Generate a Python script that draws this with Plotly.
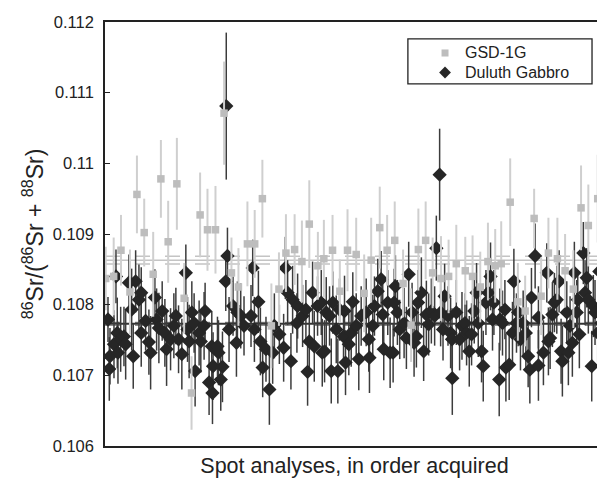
import plotly.graph_objects as go

# ---------------- data ----------------
duluth_x = [
    3, 4.3, 5, 9, 11, 12.3, 13, 15.7, 19, 20.7,
    24, 26.7, 28.3, 30.7, 34, 36.3, 36.3, 40.7, 44, 45.7,
    50, 51.7, 54, 57.3, 60, 61.7, 65.7, 69, 71, 73.7,
    77, 81, 82.7, 84.3, 87, 89.3, 90.3, 94.3, 96, 99.3,
    100.3, 104.3, 107, 107.7, 108.3, 112.7, 113.7, 116, 117.7, 121,
    121.5, 122.7, 124.3, 128.3, 131.7, 132.7, 136, 139.3, 146.3, 148,
    149.7, 153.7, 155.7, 158, 161.3, 164.7, 168, 169.7, 174.7, 179,
    180.7, 183, 186.3, 188, 192.3, 193, 198, 201.3, 203, 204.7,
    208, 209.7, 213, 216.7, 217.7, 220, 221.7, 225, 226.7, 228.3,
    231.7, 233.3, 235, 239, 240, 241, 244.3, 246.7, 248.3, 251.7,
    254.3, 256.7, 261.7, 264.3, 265, 268.3, 270, 273.3, 276.7, 278.3,
    279.3, 283.3, 285.7, 288.7, 289.7, 291, 293, 295.3, 299.7, 302,
    304.3, 307.7, 309.7, 312, 313.7, 317, 319.3, 322, 324.3, 327,
    330.3, 332, 335.3, 336.3, 338.7, 340.3, 343.7, 346.3, 347.7, 348,
    352, 355.3, 357.7, 360.7, 362.3, 365, 367.3, 370, 372.3, 374,
    377.3, 379, 381.7, 384, 386.3, 388.3, 389.7, 395, 395.7, 398.3,
    400.7, 401.7, 405, 408.3, 409.7, 412.3, 414, 416.3, 419, 421.7,
    424, 425.7, 427.3, 431, 434.3, 434.3, 439.3, 442.7, 444.3, 446,
    448.3, 450.3, 452.7, 455, 457, 458.3, 462.7, 464.3, 466, 468.3,
    470.3, 472.7, 473.7, 475.3, 479.3, 481, 482.7, 484.3, 487.7, 489.3,
    491, 493.7, 495.3, 497.7, 499.3,
]
duluth_y = [
    0.10779, 0.10709, 0.10727, 0.10744, 0.10840, 0.10760, 0.10732, 0.10751, 0.10755, 0.10744,
    0.10831, 0.10793, 0.10727, 0.10833, 0.10807, 0.10817, 0.10760, 0.10777, 0.10747, 0.10732,
    0.10810, 0.10779, 0.10767, 0.10791, 0.10760, 0.10737, 0.10751, 0.10770, 0.10784, 0.10751,
    0.10730, 0.10845, 0.10765, 0.10748, 0.10789, 0.10774, 0.10706, 0.10760, 0.10748, 0.10770,
    0.10791, 0.10690, 0.10741, 0.10675, 0.10713, 0.10741, 0.10732, 0.10694, 0.10712, 0.10833,
    0.11081, 0.10869, 0.10765, 0.10798, 0.10746, 0.10789, 0.10784, 0.10770, 0.10784, 0.10852,
    0.10765, 0.10804, 0.10748, 0.10711, 0.10737, 0.10680, 0.10732, 0.10770, 0.10758, 0.10739,
    0.10852, 0.10817, 0.10720, 0.10807, 0.10774, 0.10798, 0.10784, 0.10793, 0.10705, 0.10748,
    0.10817, 0.10741, 0.10798, 0.10803, 0.10732, 0.10734, 0.10789, 0.10784, 0.10706, 0.10803,
    0.10765, 0.10706, 0.10793, 0.10755, 0.10791, 0.10718, 0.10744, 0.10760, 0.10804, 0.10770,
    0.10723, 0.10784, 0.10789, 0.10751, 0.10725, 0.10770, 0.10798, 0.10819, 0.10836, 0.10786,
    0.10737, 0.10803, 0.10732, 0.10732, 0.10803, 0.10826, 0.10789, 0.10765, 0.10774, 0.10753,
    0.10843, 0.10789, 0.10746, 0.10755, 0.10803, 0.10817, 0.10734, 0.10786, 0.10772, 0.10791,
    0.10784, 0.10880, 0.10984, 0.10789, 0.10765, 0.10812, 0.10784, 0.10760, 0.10751, 0.10696,
    0.10789, 0.10751, 0.10770, 0.10774, 0.10760, 0.10734, 0.10758, 0.10791, 0.10817, 0.10774,
    0.10734, 0.10713, 0.10803, 0.10817, 0.10840, 0.10779, 0.10803, 0.10694, 0.10779, 0.10774,
    0.10793, 0.10711, 0.10715, 0.10760, 0.10833, 0.10774, 0.10789, 0.10751, 0.10774, 0.10760,
    0.10727, 0.10708, 0.10810, 0.10869, 0.10782, 0.10714, 0.10732, 0.10845, 0.10748, 0.10753,
    0.10786, 0.10803, 0.10807, 0.10833, 0.10734, 0.10720, 0.10789, 0.10732, 0.10770, 0.10746,
    0.10845, 0.10789, 0.10807, 0.10758, 0.10873, 0.10817, 0.10838, 0.10807, 0.10713, 0.10798,
    0.10789, 0.10760, 0.10847, 0.10774, 0.10795,
]
duluth_err = [
    0.00032, 0.00045, 0.00040, 0.00048, 0.00038, 0.00050, 0.00044, 0.00046, 0.00042, 0.00050,
    0.00040, 0.00058, 0.00046, 0.00044, 0.00050, 0.00036, 0.00048, 0.00042, 0.00046, 0.00052,
    0.00040, 0.00044, 0.00050, 0.00042, 0.00048, 0.00052, 0.00044, 0.00046, 0.00040, 0.00048,
    0.00050, 0.00040, 0.00046, 0.00052, 0.00044, 0.00042, 0.00050, 0.00046, 0.00044, 0.00048,
    0.00040, 0.00046, 0.00050, 0.00044, 0.00048, 0.00042, 0.00046, 0.00044, 0.00050, 0.00042,
    0.00104, 0.00040, 0.00046, 0.00042, 0.00048, 0.00044, 0.00046, 0.00042, 0.00044, 0.00040,
    0.00046, 0.00044, 0.00048, 0.00042, 0.00046, 0.00050, 0.00044, 0.00046, 0.00042, 0.00048,
    0.00044, 0.00046, 0.00040, 0.00048, 0.00042, 0.00046, 0.00044, 0.00042, 0.00048, 0.00046,
    0.00044, 0.00050, 0.00042, 0.00046, 0.00048, 0.00044, 0.00050, 0.00042, 0.00046, 0.00044,
    0.00048, 0.00046, 0.00044, 0.00042, 0.00050, 0.00046, 0.00044, 0.00048, 0.00042, 0.00046,
    0.00044, 0.00042, 0.00048, 0.00046, 0.00050, 0.00044, 0.00042, 0.00046, 0.00040, 0.00048,
    0.00044, 0.00046, 0.00050, 0.00042, 0.00048, 0.00044, 0.00046, 0.00042, 0.00050, 0.00044,
    0.00046, 0.00042, 0.00048, 0.00044, 0.00046, 0.00050, 0.00042, 0.00048, 0.00044, 0.00046,
    0.00042, 0.00046, 0.00065, 0.00048, 0.00044, 0.00046, 0.00042, 0.00050, 0.00044, 0.00052,
    0.00046, 0.00044, 0.00048, 0.00042, 0.00046, 0.00050, 0.00044, 0.00046, 0.00042, 0.00048,
    0.00044, 0.00050, 0.00046, 0.00042, 0.00048, 0.00044, 0.00046, 0.00052, 0.00044, 0.00046,
    0.00042, 0.00048, 0.00050, 0.00044, 0.00046, 0.00042, 0.00048, 0.00044, 0.00046, 0.00050,
    0.00044, 0.00048, 0.00042, 0.00046, 0.00044, 0.00050, 0.00046, 0.00042, 0.00048, 0.00044,
    0.00046, 0.00042, 0.00048, 0.00044, 0.00046, 0.00050, 0.00044, 0.00046, 0.00042, 0.00048,
    0.00044, 0.00046, 0.00042, 0.00048, 0.00044, 0.00046, 0.00042, 0.00048, 0.00050, 0.00044,
    0.00046, 0.00042, 0.00048, 0.00044, 0.00046,
]

gsd_x = [
    0.7, 8.7, 16, 25, 32, 39.3, 48.3, 56, 63.3, 72,
    79.3, 86.7, 95.3, 102.7, 110.7, 119.3, 126.7, 133.7, 142.7, 150,
    157.7, 166.7, 174.3, 181.3, 190, 197.3, 204.7, 213.3, 219.3, 228,
    235.3, 243, 251.7, 259.7, 266.7, 275.3, 282.7, 290.3, 298.7, 306.7,
    314, 321.3, 328.3, 336.7, 344.3, 352, 361, 368.3, 376, 383.7,
    391, 397, 406, 413.7, 421, 430, 437, 444.3, 453.3, 461,
    469.3, 477, 484.3, 493.7, 498.7,
]
gsd_y = [
    0.10837, 0.10840, 0.10877, 0.10818, 0.10956, 0.10902, 0.10843, 0.10978, 0.10889, 0.10971,
    0.10809, 0.10675, 0.10927, 0.10906, 0.10906, 0.11071, 0.10845, 0.10825, 0.10886, 0.10886,
    0.10950, 0.10770, 0.10822, 0.10873, 0.10878, 0.10861, 0.10914, 0.10855, 0.10865, 0.10877,
    0.10819, 0.10877, 0.10871, 0.10816, 0.10863, 0.10909, 0.10877, 0.10891, 0.10830, 0.10771,
    0.10878, 0.10891, 0.10845, 0.10837, 0.10840, 0.10858, 0.10848, 0.10840, 0.10825, 0.10861,
    0.10855, 0.10858, 0.10945, 0.10804, 0.10791, 0.10922, 0.10812, 0.10873, 0.10865, 0.10848,
    0.10822, 0.10937, 0.10912, 0.10950, 0.10884,
]
gsd_err = [
    0.00045, 0.00055, 0.00050, 0.00060, 0.00055, 0.00048, 0.00060, 0.00055, 0.00058, 0.00065,
    0.00050, 0.00052, 0.00060, 0.00058, 0.00062, 0.00073, 0.00050, 0.00055, 0.00060, 0.00048,
    0.00055, 0.00060, 0.00052, 0.00055, 0.00050, 0.00058, 0.00062, 0.00048, 0.00055, 0.00050,
    0.00045, 0.00058, 0.00052, 0.00055, 0.00060, 0.00058, 0.00050, 0.00055, 0.00048, 0.00052,
    0.00058, 0.00055, 0.00050, 0.00060, 0.00052, 0.00055, 0.00048, 0.00058, 0.00050, 0.00055,
    0.00052, 0.00060, 0.00062, 0.00055, 0.00050, 0.00042, 0.00055, 0.00050, 0.00058, 0.00052,
    0.00055, 0.00060, 0.00058, 0.00062, 0.00055,
]

gsd_mean = 0.10863
gsd_band = [0.108685, 0.108575]
duluth_mean = 0.10773
duluth_band = [0.10775, 0.10771]

y_ticks = [0.106, 0.107, 0.108, 0.109, 0.110, 0.111, 0.112]
y_tick_text = ["0.106", "0.107", "0.108", "0.109", "0.11", "0.111", "0.112"]

legend_names = ["GSD-1G", "Duluth Gabbro"]

# ---------------- figure ----------------
FONT = "Liberation Sans, Arial, Helvetica, sans-serif"
DARK = "#262626"
LIGHT = "#bdbdbd"

fig = go.Figure()

fig.add_trace(go.Scatter(
    x=duluth_x, y=duluth_y, mode="markers", name=legend_names[1],
    marker=dict(symbol="diamond", size=11, color=DARK, line=dict(width=0)),
    error_y=dict(type="data", array=duluth_err, visible=True, color="#3c3c3c",
                 thickness=1.5, width=0),
))
fig.add_trace(go.Scatter(
    x=gsd_x, y=gsd_y, mode="markers", name=legend_names[0],
    marker=dict(symbol="square", size=7.5, color=LIGHT, line=dict(width=0)),
    error_y=dict(type="data", array=gsd_err, visible=True, color="#cfcfcf",
                 thickness=2, width=0),
))

shapes = []
shapes.append(dict(type="line", xref="paper", x0=0, x1=1, yref="y",
                   y0=gsd_mean, y1=gsd_mean, layer="below",
                   line=dict(color="#c4c4c4", width=1.5)))
for v in gsd_band:
    shapes.append(dict(type="line", xref="paper", x0=0, x1=1, yref="y",
                       y0=v, y1=v, layer="below",
                       line=dict(color="#c4c4c4", width=1.5, dash="longdash")))
shapes.append(dict(type="line", xref="paper", x0=0, x1=1, yref="y",
                   y0=duluth_mean, y1=duluth_mean, layer="below",
                   line=dict(color="#333333", width=2)))
for v in duluth_band:
    shapes.append(dict(type="line", xref="paper", x0=0, x1=1, yref="y",
                       y0=v, y1=v, layer="below",
                       line=dict(color="#555555", width=1, dash="longdash")))

# legend (frame, symbols) in paper coordinates
shapes.append(dict(type="rect", xref="paper", yref="paper",
                   x0=0.607, x1=0.976, y0=0.854, y1=0.960, layer="above",
                   fillcolor="white", line=dict(color="#222222", width=1.3)))
shapes.append(dict(type="rect", xref="paper", yref="paper",
                   x0=0.6814 - 0.0070, x1=0.6814 + 0.0070,
                   y0=0.9269 - 0.0083, y1=0.9269 + 0.0083, layer="above",
                   fillcolor=LIGHT, line=dict(width=0)))
dcx, dcy, dw, dh = 0.6814, 0.8809, 0.0118, 0.0140
shapes.append(dict(type="path", xref="paper", yref="paper", layer="above",
                   path=f"M {dcx-dw},{dcy} L {dcx},{dcy+dh} L {dcx+dw},{dcy} L {dcx},{dcy-dh} Z",
                   fillcolor=DARK, line=dict(width=0)))

annotations = [
    dict(text=legend_names[0], xref="paper", yref="paper", x=0.7174, y=0.9269,
         xanchor="left", yanchor="middle", showarrow=False, font=dict(size=16)),
    dict(text=legend_names[1], xref="paper", yref="paper", x=0.7174, y=0.8809,
         xanchor="left", yanchor="middle", showarrow=False, font=dict(size=16)),
]

# page body has an 8px margin, so the figure is drawn 8px smaller
fig.update_layout(
    width=597, height=470,
    margin=dict(l=97, r=1, t=14, b=32),
    paper_bgcolor="white", plot_bgcolor="white",
    font=dict(family=FONT, size=16, color="#222222"),
    showlegend=False,
    shapes=shapes,
    annotations=annotations,
    xaxis=dict(range=[0, 500], showgrid=False, zeroline=False, automargin=False,
               showline=True, linecolor="#222222", linewidth=1.5, mirror=True,
               ticks="", showticklabels=False,
               title=dict(text="Spot analyses, in order acquired",
                          font=dict(size=21.5), standoff=12)),
    yaxis=dict(range=[0.106, 0.112], showgrid=False, zeroline=False, automargin=False,
               showline=True, linecolor="#222222", linewidth=1.5, mirror="ticks",
               ticks="inside", ticklen=5, tickwidth=1.2, tickcolor="#222222",
               tickvals=y_ticks, ticktext=y_tick_text, ticklabelstandoff=6,
               tickfont=dict(size=16.5),
               title=dict(text="<sup>86</sup>Sr/(<sup>86</sup>Sr + <sup>88</sup>Sr)",
                          font=dict(size=23), standoff=3)),
)

fig.write_html("out.html")
